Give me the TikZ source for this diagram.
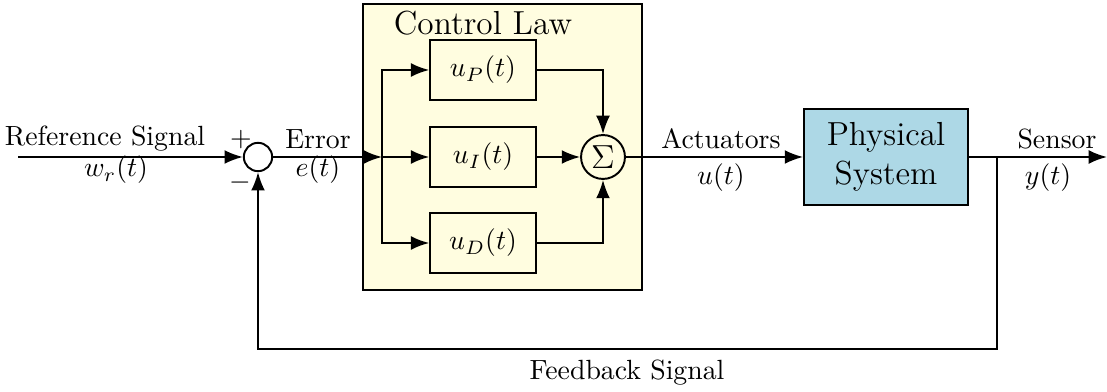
\documentclass[tikz,border=0pt]{standalone}
\usetikzlibrary{arrows.meta}
\definecolor{lawfill}{RGB}{255,253,224}
\definecolor{plantfill}{RGB}{173,216,230}
\begin{document}
\begin{tikzpicture}[x=0.36pt,y=-0.36pt,
  line width=0.7pt,
  arr/.style={-{Latex[length=6.6pt,width=5pt]}},
  blk/.style={draw,minimum width=38pt,minimum height=21.6pt,inner sep=0pt},
  sumc/.style={draw,circle,minimum size=10.2pt,inner sep=0pt},
  sigc/.style={draw,circle,minimum size=15.8pt,inner sep=0pt},
  lbl/.style={inner sep=0pt}]
\useasboundingbox (0,0) rectangle (1107,392);
% control law box
\node[draw,fill=lawfill,minimum width=100.4pt,minimum height=103pt,inner sep=0pt] (law) at (502.5,147) {};
\node[lbl,font=\large] (lawt) at (483,23) {Control Law};
% nodes
\node[sumc] (sum) at (258,157) {};
\node[blk] (uP) at (483,70) {$u_P(t)$};
\node[blk] (uI) at (483,157) {$u_I(t)$};
\node[blk] (uD) at (483,243) {$u_D(t)$};
\node[sigc,font=\large] (sig) at (603,157) {$\Sigma$};
\node[draw,fill=plantfill,minimum width=59pt,minimum height=34.6pt,inner sep=0pt,align=center,font=\large] (plant) at (886,157) {Physical\\System};
\coordinate (in) at (18,157);
\coordinate (br) at (382,157);
\coordinate (fb) at (997,157);
\coordinate (out) at (1107,157);
\coordinate (fbr) at (997,349);
\coordinate (fbl) at (258,349);
% connectors
\draw[arr] (in) -- (sum);
\draw[arr] (sum) -- (br);
\draw[arr] (br) |- (uP);
\draw[arr] (br) -- (uI);
\draw[arr] (br) |- (uD);
\draw[arr] (uP) -| (sig);
\draw[arr] (uI) -- (sig);
\draw[arr] (uD) -| (sig);
\draw[arr] (sig) -- (plant);
\draw[arr] (plant) -- (out);
\draw[arr] (fb) -- (fbr) -- (fbl) -- (sum);
% labels
\node[lbl] (refl) at (105,139) {Reference Signal};
\node[lbl] (wrl) at (116,170) {$w_r(t)$};
\node[lbl] (plus) at (241,140) {$+$};
\node[lbl] (minus) at (240,183) {$-$};
\node[lbl] (errl) at (318,139) {Error};
\node[lbl] (el) at (318,170) {$e(t)$};
\node[lbl] (actl) at (721,139) {Actuators};
\node[lbl] (ul) at (721,178) {$u(t)$};
\node[lbl] (senl) at (1057,139) {Sensor};
\node[lbl] (yl) at (1048,178) {$y(t)$};
\node[lbl] (fbl2) at (627,373) {Feedback Signal};
\end{tikzpicture}
\end{document}
